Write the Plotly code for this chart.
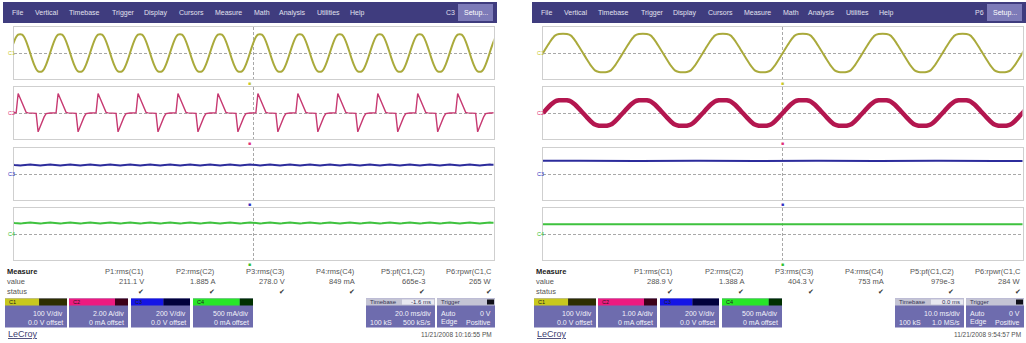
import plotly.graph_objects as go

FIG_W, FIG_H = 1026, 343

# ------------------------------------------------------------------ data
menu_items = ["File", "Vertical", "Timebase", "Trigger", "Display", "Cursors",
              "Measure", "Math", "Analysis", "Utilities", "Help"]
active_label = ["C3", "P6"]

timebase_ms_div = [20.0, 10.0]          # left screen, right screen
timebase_delay_ms = [-1.6, 0.0]
sample_dt_ms = 0.8333                    # 20 samples per 60 Hz cycle
cycles_on_screen = [12, 6]

volts_per_div = [[100, 2.00, 200, 0.5],  # left: C1 V, C2 A, C3 V, C4 A
                 [100, 1.00, 200, 0.5]]  # right

# one mains cycle of each waveform (20 samples / cycle)
left_c1_cycle = [0, 95, 180, 245, 282, 290, 282, 245, 180, 95,
                 0, -95, -180, -245, -282, -290, -282, -245, -180, -95]
left_c2_cycle = [0, 0, 0.05, 0.1, 6.0, 4.4, 2.8, 1.3, 0.2, 0.05,
                 0, 0, -0.05, -0.1, -5.8, -4.2, -2.7, -1.2, -0.2, -0.05]
right_c1_cycle = [0, 100, 195, 268, 292, 296, 292, 268, 195, 100,
                  0, -100, -195, -268, -292, -296, -292, -268, -195, -100]
right_c2_cycle = [0, 0.68, 1.30, 1.78, 1.95, 1.98, 1.95, 1.78, 1.30, 0.68,
                  0, -0.68, -1.30, -1.78, -1.95, -1.98, -1.95, -1.78, -1.30, -0.68]
# one 120 Hz ripple cycle (10 samples) of the DC channels
left_c3_ripple = [278, 286, 292, 293, 288, 279, 270, 264, 263, 268]
left_c4_ripple = [0.849, 0.870, 0.885, 0.888, 0.875, 0.852, 0.830, 0.815, 0.812, 0.825]
right_c3_ripple = [404, 406, 408, 408, 406, 404, 401, 400, 400, 402]
right_c4_ripple = [0.753, 0.757, 0.760, 0.760, 0.757, 0.752, 0.748, 0.745, 0.745, 0.749]

meas_headers = ["P1:rms(C1)", "P2:rms(C2)", "P3:rms(C3)", "P4:rms(C4)",
                "P5:pf(C1,C2)", "P6:rpwr(C1,C"]
meas_values = [["211.1 V", "1.885 A", "278.0 V", "849 mA", "665e-3", "265 W"],
               ["288.9 V", "1.388 A", "404.3 V", "753 mA", "979e-3", "284 W"]]

ch_names = ["C1", "C2", "C3", "C4"]
ch_scale_txt = [["100 V/div", "2.00 A/div", "200 V/div", "500 mA/div"],
                ["100 V/div", "1.00 A/div", "200 V/div", "500 mA/div"]]
ch_offset_txt = [["0.0 V offset", "0 mA offset", "0.0 V offset", "0 mA offset"],
                 ["0.0 V offset", "0 mA offset", "0.0 V offset", "0 mA offset"]]
timebase_txt = [["-1.6 ms", "20.0 ms/div", "100 kS", "500 kS/s"],
                ["0.0 ms", "10.0 ms/div", "100 kS", "1.0 MS/s"]]
trigger_txt = ["Auto", "0 V", "Edge", "Positive"]
timestamps = ["11/21/2008 10:16:55 PM", "11/21/2008 9:54:57 PM"]

# ------------------------------------------------------------------ style / layout
FONT = "Liberation Sans, Arial, DejaVu Sans, sans-serif"
screen_x0 = [3, 532]
menu_rel_x = [7, 30, 64, 107, 139, 174, 210, 249, 274, 312, 345]
panel_rel_x = (11, 490.5)
panel_y = [(27, 79), (87, 139), (148, 200), (208, 260)]
trace_color = [["#aaaa3c", "#c73a72", "#2c2c9c", "#3fc23f"],
               ["#aaaa3c", "#b3164f", "#2c2c9c", "#3fc23f"]]
trace_width = [[2, 1.4, 2, 2], [2, 4.5, 2, 2]]
label_color = ["#c8c82a", "#e0307a", "#3030c0", "#30c030"]
strip_color = ["#c8c81e", "#ee1a80", "#1414e6", "#28e628"]
strip_dark = ["#2e2e00", "#3c0018", "#00003c", "#003000"]
strip_frac = [0.55, 0.78, 0.55, 0.78]
box_rel_x = [(2, 64), (66, 125), (128, 187), (190, 250)]
meas_rel_right = [143, 214, 284, 354, 424, 491]
BAR = "#3f3c7e"
BODY = "#6e6cae"


def px(x):
    return x / FIG_W


def py(y):
    return 1 - y / FIG_H


fig = go.Figure()
shapes = []
annotations = []


def text(x, y, s, size=7.5, color="#555555", anchor="left", bold=False):
    annotations.append(dict(
        x=px(x), y=py(y), xref="paper", yref="paper", text=f"<b>{s}</b>" if bold else s,
        showarrow=False, xanchor=anchor, yanchor="middle",
        font=dict(family=FONT, size=size, color=color)))


def rect(x0, y0, x1, y1, fill, line=None):
    shapes.append(dict(type="rect", xref="paper", yref="paper",
                       x0=px(x0), x1=px(x1), y0=py(y1), y1=py(y0),
                       fillcolor=fill, line=dict(width=1 if line else 0, color=line or fill),
                       layer="above"))


waves = [[left_c1_cycle, left_c2_cycle, left_c3_ripple, left_c4_ripple],
         [right_c1_cycle, right_c2_cycle, right_c3_ripple, right_c4_ripple]]

for s in range(2):
    ox = screen_x0[s]
    tb = timebase_ms_div[s]
    delay = timebase_delay_ms[s]
    ncyc = cycles_on_screen[s] + 1
    for i in range(4):
        n = s * 4 + i + 1
        xa = "x" if n == 1 else f"x{n}"
        ya = "y" if n == 1 else f"y{n}"
        vd = volts_per_div[s][i]
        y0p, y1p = panel_y[i]
        fig.update_layout({
            f"xaxis{n if n > 1 else ''}": dict(
                domain=[px(ox + panel_rel_x[0]), px(ox + panel_rel_x[1])],
                range=[-5 * tb, 5 * tb], anchor=ya,
                showline=True, mirror=True, linecolor="#cfcfcf", linewidth=1,
                showticklabels=False, ticks="", zeroline=False,
                tickmode="array", tickvals=[0], showgrid=True,
                gridcolor="#a8a8a8", gridwidth=1, griddash="3px,2px", fixedrange=True),
            f"yaxis{n if n > 1 else ''}": dict(
                domain=[py(y1p), py(y0p)], range=[-4 * vd, 4 * vd], anchor=xa,
                showline=True, mirror=True, linecolor="#cfcfcf", linewidth=1,
                showticklabels=False, ticks="", zeroline=False,
                tickmode="array", tickvals=[0], showgrid=True,
                gridcolor="#a8a8a8", gridwidth=1, griddash="3px,2px", fixedrange=True),
        })
        if i < 2:
            yv = waves[s][i] * ncyc + [waves[s][i][0]]
            x0 = -5 * tb + delay
            while x0 > -5 * tb:
                x0 -= 16.667
        else:
            yv = waves[s][i] * (2 * ncyc) + [waves[s][i][0]]
            x0 = -5 * tb - 4.0
        fig.add_trace(go.Scatter(
            y=yv, x0=x0, dx=sample_dt_ms, mode="lines",
            line=dict(color=trace_color[s][i], width=trace_width[s][i],
                      shape="spline" if (i == 0 or (s == 1 and i == 1)) else "linear",
                      smoothing=0.6),
            xaxis=xa, yaxis=ya, showlegend=False, hoverinfo="skip"))
        # channel label at left and trigger marker below panel
        text(ox + 3, (y0p + y1p) / 2, ch_names[i], size=5.5, color=label_color[i])
        annotations.append(dict(x=delay, y=py(y1p + 3.5), xref=xa, yref="paper",
                                text="■", showarrow=False, xanchor="center", yanchor="middle",
                                font=dict(family=FONT, size=5, color=label_color[i])))

    # ---- menu bar
    rect(ox, 2, ox + 494, 23, BAR)
    for name, rx in zip(menu_items, menu_rel_x):
        text(ox + rx, 12.5, name, size=7, color="#e0e0ee")
    text(ox + 447, 12.5, active_label[s], size=7, color="#e0e0ee", anchor="center")
    rect(ox + 455, 4, ox + 490, 21, "#7d7bb8")
    text(ox + 472.5, 12.5, "Setup...", size=7, color="#ffffff", anchor="center")

    # ---- measure table
    text(ox + 2, 271, "Measure", size=7.5, color="#222222", bold=True)
    text(ox + 2, 281.5, "value", size=7.5)
    text(ox + 2, 291.5, "status", size=7.5)
    for k in range(6):
        rx = ox + meas_rel_right[k]
        text(rx, 271, meas_headers[k], size=7.5, anchor="right")
        text(rx, 281.5, meas_values[s][k], size=7.5, anchor="right")
        text(rx, 291.5, "✔", size=7, color="#333333", anchor="right")

    # ---- channel boxes
    for i in range(4):
        bx0, bx1 = ox + box_rel_x[i][0], ox + box_rel_x[i][1]
        split = bx0 + (bx1 - bx0) * strip_frac[i]
        rect(bx0, 298.5, bx1, 327.5, BODY)
        rect(bx0, 298.5, split, 305.5, strip_color[i])
        rect(split, 298.5, bx1, 305.5, strip_dark[i])
        text(bx0 + 2, 302, ch_names[i], size=5.5, color="#202020")
        text(bx1 - 2, 313, ch_scale_txt[s][i], size=7, color="#f2f2fa", anchor="right")
        text(bx1 - 2, 322, ch_offset_txt[s][i], size=7, color="#f2f2fa", anchor="right")

    # ---- timebase box
    tb0, tb1 = ox + 363, ox + 432
    rect(tb0, 298.5, tb1, 327.5, BODY)
    rect(tb0, 298.5, tb1, 305.5, "#c4c4d4")
    rect(tb0 + 36, 299.5, tb1 - 1, 304.5, "#e8e8f0")
    text(tb0 + 2, 302, "Timebase", size=6, color="#303050")
    text(tb1 - 2, 302, timebase_txt[s][0], size=6, color="#303050", anchor="right")
    text(tb1 - 2, 313, timebase_txt[s][1], size=7, color="#f2f2fa", anchor="right")
    text(tb0 + 2, 322, timebase_txt[s][2], size=7, color="#f2f2fa")
    text(tb1 - 2, 322, timebase_txt[s][3], size=7, color="#f2f2fa", anchor="right")

    # ---- trigger box
    tr0, tr1 = ox + 434, ox + 492
    rect(tr0, 298.5, tr1, 327.5, BODY)
    rect(tr0, 298.5, tr1, 305.5, "#c4c4d4")
    rect(tr1 - 8, 299.5, tr1 - 1, 304.5, "#101018")
    text(tr0 + 2, 302, "Trigger", size=6, color="#303050")
    text(tr0 + 2, 313, trigger_txt[0], size=7, color="#f2f2fa")
    text(tr1 - 2, 313, trigger_txt[1], size=7, color="#f2f2fa", anchor="right")
    text(tr0 + 2, 322, trigger_txt[2], size=7, color="#f2f2fa")
    text(tr1 - 2, 322, trigger_txt[3], size=7, color="#f2f2fa", anchor="right")

    # ---- footer
    text(ox + 3, 334, "<u>LeCroy</u>", size=9, color="#404070")
    text(ox + 491, 334, timestamps[s], size=6.5, color="#505050", anchor="right")

fig.update_layout(
    width=FIG_W, height=FIG_H, margin=dict(l=0, r=0, t=0, b=0),
    paper_bgcolor="white", plot_bgcolor="white",
    shapes=shapes, annotations=annotations, showlegend=False)

fig.write_html(
    "out.html",
    config={"displayModeBar": False, "staticPlot": True},
    post_script="document.body.style.margin='0px';document.body.style.padding='0px';"
                "document.documentElement.style.overflow='hidden';")
